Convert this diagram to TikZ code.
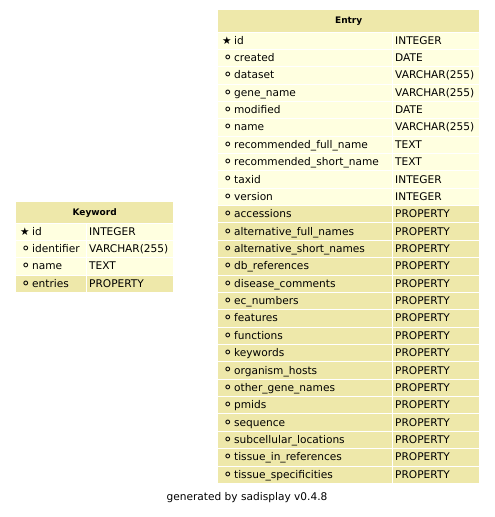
\documentclass[tikz,border=0pt]{standalone}
\usepackage{fontspec}
\setmainfont{DejaVu Sans}
\usepackage{tikz}
\usetikzlibrary{positioning}
\definecolor{HeadTan}{RGB}{238,232,170}
\definecolor{RowYellow}{RGB}{255,255,224}
\newcommand{\fieldmark}{\makebox[8.4pt][l]{\raisebox{-0.9pt}{\scalebox{1.3}{⚬}}}}
\newcommand{\keymark}{\makebox[8.4pt][l]{★}}

\begin{document}
\begin{tikzpicture}[x=1pt, y=-1pt,
            every node/.style={inner sep=0pt, font=\fontsize{10.6}{12}\selectfont},
            head/.style={fill=HeadTan, minimum height=21.3pt, anchor=north west, text height=7pt, text depth=1pt, font=\fontsize{9}{11}\selectfont\bfseries},
            namecell/.style={minimum height=16.36pt, anchor=north west, text height=8.5pt, text depth=1.5pt, align=left, inner xsep=4pt},
            typecell/.style={minimum height=16.36pt, anchor=north west, text height=8.5pt, text depth=1.5pt, align=left, inner xsep=2pt},
            col/.style={fill=RowYellow},
            prop/.style={fill=HeadTan}
        ]
            \useasboundingbox (0,0) rectangle (495,517);

            % Entry table
            \node (entry) [head, minimum width=261pt] at (218,10) {Entry};
            \foreach \m/\n/\t/\k [count=\i from 0] in {
                    \keymark/id/INTEGER/col, \fieldmark/created/DATE/col, \fieldmark/dataset/VARCHAR(255)/col,
                    \fieldmark/gene\_name/VARCHAR(255)/col, \fieldmark/modified/DATE/col, \fieldmark/name/VARCHAR(255)/col,
                    \fieldmark/recommended\_full\_name/TEXT/col, \fieldmark/recommended\_short\_name/TEXT/col,
                    \fieldmark/taxid/INTEGER/col, \fieldmark/version/INTEGER/col,
                    \fieldmark/accessions/PROPERTY/prop, \fieldmark/alternative\_full\_names/PROPERTY/prop,
                    \fieldmark/alternative\_short\_names/PROPERTY/prop, \fieldmark/db\_references/PROPERTY/prop,
                    \fieldmark/disease\_comments/PROPERTY/prop, \fieldmark/ec\_numbers/PROPERTY/prop,
                    \fieldmark/features/PROPERTY/prop, \fieldmark/functions/PROPERTY/prop,
                    \fieldmark/keywords/PROPERTY/prop, \fieldmark/organism\_hosts/PROPERTY/prop,
                    \fieldmark/other\_gene\_names/PROPERTY/prop, \fieldmark/pmids/PROPERTY/prop,
                    \fieldmark/sequence/PROPERTY/prop, \fieldmark/subcellular\_locations/PROPERTY/prop,
                    \fieldmark/tissue\_in\_references/PROPERTY/prop, \fieldmark/tissue\_specificities/PROPERTY/prop} {
                \node (entry-n\i) [namecell, \k, minimum width=174pt, text width=166pt] at (218,32.3+17.36*\i) {\mbox{\m\ \n}};
                \node (entry-t\i) [typecell, \k, minimum width=86pt, text width=82pt] at (393,32.3+17.36*\i) {\t};
            }

            % Keyword table
            \node (keyword) [head, minimum width=157pt, minimum height=20.3pt] at (16,202) {Keyword};
            \foreach \m/\n/\t/\k [count=\i from 0] in {
                    \keymark/id/INTEGER/col, \fieldmark/identifier/VARCHAR(255)/col,
                    \fieldmark/name/TEXT/col, \fieldmark/entries/PROPERTY/prop} {
                \node (kw-n\i) [namecell, \k, minimum width=70pt, text width=62pt] at (16,223.3+17.36*\i) {\mbox{\m\ \n}};
                \node (kw-t\i) [typecell, \k, minimum width=86pt, text width=82pt] at (87,223.3+17.36*\i) {\t};
            }

            \node (footer) at (247,498) {generated by sadisplay v0.4.8};
        \end{tikzpicture}
\end{document}
